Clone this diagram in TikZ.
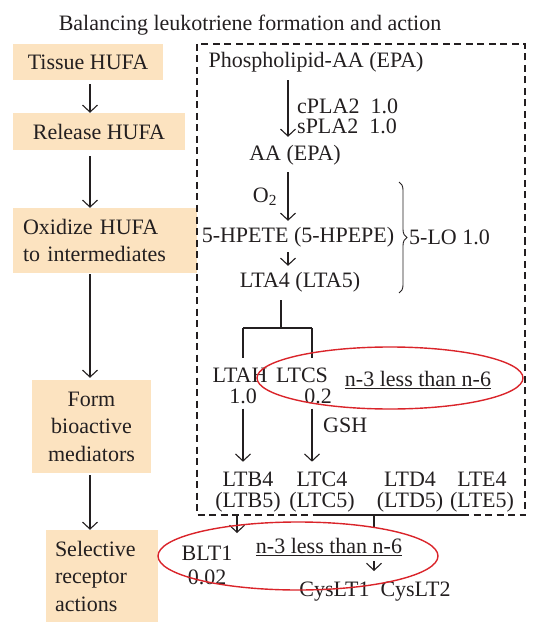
\documentclass[tikz,border=0pt]{standalone}
\usepackage{fontspec}
\setmainfont{Liberation Serif}
\usetikzlibrary{arrows.meta,decorations.pathreplacing}
\definecolor{hufa}{RGB}{252,227,192}
\definecolor{ring}{RGB}{218,36,42}
\definecolor{ink}{RGB}{35,31,32}
\tikzset{
  stage/.style={fill=hufa, inner sep=0pt, font=\fontsize{22}{27.5}\selectfont},
  lbl/.style={inner sep=0pt, font=\fontsize{22}{21}\selectfont, align=center},
  arr/.style={line width=1.1pt, -{Straight Barb[length=7pt,width=15pt]}},
  conn/.style={line width=1.1pt},
  ring/.style={draw=ring, line width=1.4pt}
}
\begin{document}
\begin{tikzpicture}[x=1pt, y=-1pt, ink, text=ink]
\useasboundingbox (0,0) rectangle (540,636);
\node[lbl] (title) at (250,25) {Balancing leukotriene formation and action};

% left column
\coordinate (lx) at (90,0);
\node[stage, minimum width=150pt, minimum height=36pt] (tissue) at (88,62) {Tissue HUFA};
\node[stage, minimum width=172pt, minimum height=37pt] (release) at (99,131.5) {Release HUFA};
\node[stage, minimum width=184pt, minimum height=65pt, text width=164pt, inner xsep=10pt, align=left] (oxid) at (105,240.5) {Oxidize HUFA\\to intermediates};
\node[stage, minimum width=119pt, minimum height=93pt, align=center] (form) at (91.5,426.5) {Form\\bioactive\\mediators};
\node[stage, minimum width=112pt, minimum height=92pt, text width=94pt, inner xsep=9pt, align=left] (select) at (102,576) {Selective\\receptor\\actions};
\draw[arr, shorten <=4pt] (tissue.south -| lx) -- (release.north -| lx);
\draw[arr, shorten <=6pt] (release.south -| lx) -- (oxid.north -| lx);
\draw[arr, shorten <=1pt, shorten >=2pt] (oxid.south -| lx) -- (form.north -| lx);
\draw[arr, shorten <=2pt] (form.south -| lx) -- (select.north -| lx);

% leukotriene pathway
\draw[dashed, line width=1.3pt, dash pattern=on 7pt off 4.5pt] (197,44) rectangle (525,515);
\coordinate (ax) at (288,0);
\node[lbl] (phos) at (316,62) {Phospholipid-AA (EPA)};
\node[lbl, anchor=west] (cpla) at (297,106) {cPLA2\ \ 1.0};
\node[lbl, anchor=west] (spla) at (297,126) {sPLA2\ \ 1.0};
\node[lbl] (aa) at (295,155) {AA (EPA)};
\node[lbl] (otwo) at (265,197) {O\textsubscript{2}};
\node[lbl] (hpete) at (298,237) {5-HPETE (5-HPEPE)};
\node[lbl] (lta) at (300,282) {LTA4 (LTA5)};
\draw[arr, shorten <=8pt, shorten >=8pt] (phos.south -| ax) -- (aa.north -| ax);
\draw[arr, shorten <=7pt, shorten >=6pt] (aa.south -| ax) -- (hpete.north -| ax);
\draw[arr, shorten <=5pt, shorten >=6pt] (hpete.south -| ax) -- (lta.north -| ax);
\coordinate (btop) at (399,182);
\coordinate (bbot) at (399,293);
\draw[conn, line width=0.9pt, decorate, decoration={brace, amplitude=8pt}] (btop) -- (bbot);
\node[lbl, anchor=west] (lo) at (409,237) {5-LO 1.0};

% split to LTAH / LTCS
\coordinate (split) at (281,328);
\coordinate (hleg) at (243,328);
\coordinate (cleg) at (312,328);
\node[lbl] (ltah) at (240,375) {LTAH};
\node[lbl] (ltcs) at (302,375) {LTCS};
\node[lbl] (ltahv) at (243,396) {1.0};
\node[lbl] (ltcsv) at (318,396) {0.2};
\draw[conn, shorten <=8pt] (lta.south -| split) -- (split);
\draw[conn] (hleg) -- (cleg);
\draw[conn] (hleg) -- (243,358);
\draw[conn] (cleg) -- (312,358);
\node[lbl] (lessa) at (418,380) {\underline{n-3 less than n-6}};
\draw[ring] (390,378) ellipse [x radius=133, y radius=31];

\node[lbl] (ltb) at (248,492) {LTB4\\(LTB5)};
\node[lbl] (ltc) at (322,492) {LTC4\\(LTC5)};
\node[lbl] (ltd) at (410,492) {LTD4\\(LTD5)};
\node[lbl] (lte) at (482,492) {LTE4\\(LTE5)};
\draw[arr, shorten <=5pt, shorten >=10pt] (ltahv.south -| hleg) -- (ltb.north -| hleg);
\draw[arr, shorten <=5pt, shorten >=10pt] (ltcsv.south -| cleg) -- (ltc.north -| cleg);
\node[lbl, anchor=west] (gsh) at (323,425) {GSH};

% receptors
\coordinate (bx) at (237,515);
\coordinate (cl) at (313,515);
\coordinate (cr) at (465,515);
\coordinate (cm) at (374,515);
\node[lbl] (blt) at (207,553) {BLT1};
\node[lbl] (bltv) at (207,577) {0.02};
\node[lbl] (lessb) at (329,547) {\underline{n-3 less than n-6}};
\node[lbl] (cys) at (375,592) {CysLT1\ \ CysLT2};
\draw[arr] (bx) -- (237,533);
\draw[conn] (cl) -- (cr);
\draw[conn] (cm) -- (374,528);
\draw[arr] (374,561) -- (374,571);
\draw[ring] (298,556) ellipse [x radius=140, y radius=34];
\end{tikzpicture}
\end{document}
